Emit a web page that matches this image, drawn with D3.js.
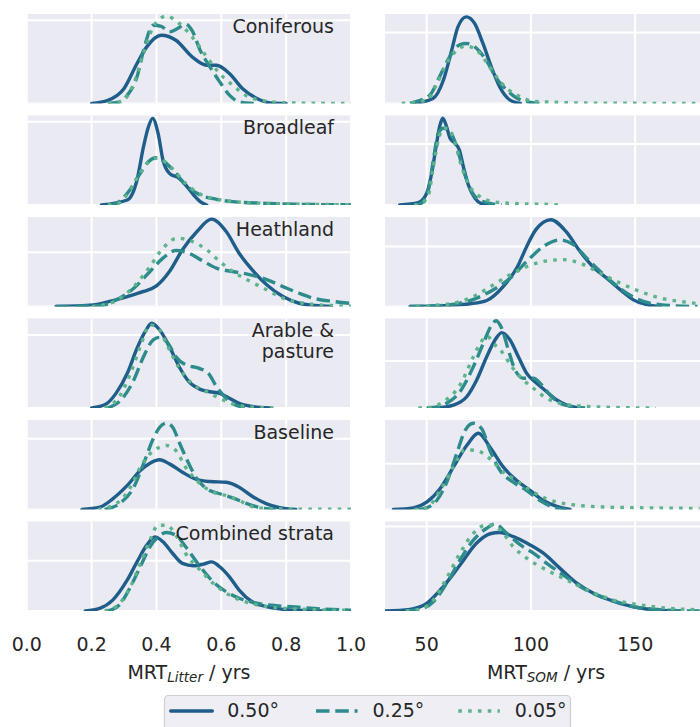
<!DOCTYPE html>
<html><head><meta charset="utf-8">
<script src="https://cdn.jsdelivr.net/npm/d3@7"></script>
<style>body{margin:0;background:#fff}</style>
</head><body><svg id="c" width="700" height="727" xmlns="http://www.w3.org/2000/svg"></svg>
<script>
// ---------------- DATA ----------------
const strata = ["Coniferous", "Broadleaf", "Heathland", "Arable &\npasture", "Baseline", "Combined strata"];
const resolutions = ["0.50°", "0.25°", "0.05°"];

const litterTicks = [0, 0.2, 0.4, 0.6, 0.8, 1.0];
const litterTickLabels = ["0.0", "0.2", "0.4", "0.6", "0.8", "1.0"];
const somTicks = [50, 100, 150];
const somTickLabels = ["50", "100", "150"];

// per panel y-axis upper limit and the single visible (unlabelled) y gridline
const litterYMax = [4.30, 10.74, 4.94, 4.90, 5.06, 5.34];
const litterYTick = [4, 10, 3, 4, 4, 3];
const somYMax = [0.0504, 0.0734, 0.0298, 0.0571, 0.0588, 0.0212];
const somYTick = [0.04, 0.05, 0.02, 0.03, 0.03, 0.02];

// density curves [value, density] for 0.50°, 0.25°, 0.05°
const litterConiferous = [
  [[0.20,0],[0.25,0.15],[0.30,0.72],[0.34,1.92],[0.37,2.72],[0.415,3.28],[0.46,3.04],[0.51,2.24],[0.555,1.84],[0.585,1.84],[0.625,1.44],[0.665,0.72],[0.71,0.24],[0.75,0.03],[0.80,0]],
  [[0.25,0],[0.28,0.05],[0.31,0.4],[0.34,1.28],[0.36,2.55],[0.39,3.76],[0.415,3.7],[0.44,3.44],[0.465,3.6],[0.49,3.81],[0.51,3.5],[0.535,2.55],[0.565,1.76],[0.595,1.04],[0.625,0.4],[0.655,0.08],[0.70,0]],
  [[0.25,0],[0.29,0.08],[0.33,0.96],[0.36,2.4],[0.39,3.68],[0.43,4.2],[0.47,3.85],[0.51,3.2],[0.555,2.24],[0.595,1.44],[0.635,0.88],[0.675,0.4],[0.72,0.16],[0.79,0.04],[0.90,0.01],[1.0,0]]
];
const litterBroadleaf = [
  [[0.23,0],[0.31,0.6],[0.34,3.0],[0.36,7.0],[0.375,9.36],[0.388,10.4],[0.405,8.6],[0.42,5.4],[0.44,3.8],[0.47,3.2],[0.49,2.4],[0.515,1.2],[0.535,0.4],[0.555,0]],
  [[0.25,0],[0.27,0.1],[0.31,1.4],[0.35,3.8],[0.375,5.2],[0.40,5.68],[0.43,5.0],[0.46,3.8],[0.49,2.4],[0.535,1.2],[0.585,0.68],[0.635,0.4],[0.74,0.2],[0.85,0.08],[1.0,0.02]],
  [[0.25,0],[0.28,0.15],[0.31,1.3],[0.35,3.9],[0.38,5.3],[0.40,5.6],[0.43,5.1],[0.46,3.9],[0.49,2.6],[0.535,1.3],[0.585,0.7],[0.635,0.42],[0.74,0.2],[0.85,0.1],[1.0,0.03]]
];
const litterHeathland = [
  [[0.09,0],[0.205,0.09],[0.255,0.28],[0.31,0.55],[0.36,0.83],[0.40,1.14],[0.44,1.93],[0.48,3.13],[0.525,4.14],[0.57,4.82],[0.615,4.14],[0.655,2.94],[0.70,1.93],[0.74,1.2],[0.79,0.55],[0.84,0.18],[0.89,0.06],[0.94,0]],
  [[0.09,0],[0.225,0.05],[0.28,0.4],[0.33,1.01],[0.38,1.93],[0.42,2.67],[0.46,3.09],[0.50,2.94],[0.545,2.49],[0.585,2.12],[0.635,1.93],[0.69,1.75],[0.74,1.48],[0.79,1.1],[0.84,0.73],[0.89,0.43],[0.945,0.28],[1.0,0.17]],
  [[0.20,0],[0.225,0.05],[0.28,0.37],[0.33,1.1],[0.38,2.21],[0.42,3.22],[0.465,3.77],[0.51,3.59],[0.555,3.13],[0.595,2.49],[0.635,1.93],[0.69,1.38],[0.74,0.92],[0.79,0.46],[0.84,0.22],[0.89,0.11],[0.945,0.05],[1.0,0.02]]
];
const litterArable = [
  [[0.20,0],[0.245,0.22],[0.275,0.8],[0.31,1.9],[0.34,3.27],[0.365,4.18],[0.385,4.64],[0.41,4.27],[0.44,3.36],[0.47,2.26],[0.50,1.44],[0.535,1.02],[0.565,0.89],[0.595,0.8],[0.625,0.53],[0.655,0.26],[0.70,0.07],[0.75,0]],
  [[0.25,0],[0.295,0.53],[0.33,1.53],[0.36,2.81],[0.39,3.73],[0.41,3.87],[0.435,3.55],[0.46,2.81],[0.49,2.36],[0.53,2.18],[0.56,1.9],[0.585,1.17],[0.615,0.53],[0.645,0.16],[0.69,0]],
  [[0.24,0],[0.285,0.62],[0.32,1.9],[0.35,3.36],[0.38,4.55],[0.405,4.37],[0.435,3.36],[0.47,2.18],[0.515,1.26],[0.555,0.89],[0.595,0.53],[0.635,0.22],[0.685,0.07],[0.78,0]]
];
const litterBaseline = [
  [[0.17,0],[0.225,0.13],[0.265,0.6],[0.31,1.36],[0.35,2.2],[0.38,2.62],[0.41,2.81],[0.44,2.58],[0.48,2.11],[0.525,1.69],[0.565,1.58],[0.615,1.54],[0.655,1.26],[0.695,0.75],[0.74,0.32],[0.78,0.1],[0.83,0]],
  [[0.24,0],[0.285,0.32],[0.33,1.26],[0.36,2.58],[0.39,4.0],[0.41,4.65],[0.43,4.88],[0.45,4.65],[0.47,3.8],[0.50,2.58],[0.525,1.73],[0.555,1.17],[0.595,0.89],[0.635,0.66],[0.675,0.36],[0.72,0.1],[0.77,0]],
  [[0.22,0],[0.275,0.32],[0.32,1.26],[0.35,2.39],[0.38,3.15],[0.41,3.52],[0.43,3.62],[0.46,3.33],[0.49,2.39],[0.535,1.45],[0.575,0.98],[0.615,0.79],[0.655,0.51],[0.695,0.17],[0.74,0.06],[0.85,0.02],[1.0,0.01]]
];
const litterCombined = [
  [[0.18,0],[0.225,0.16],[0.265,0.65],[0.31,1.85],[0.34,2.93],[0.37,3.93],[0.395,4.42],[0.42,4.13],[0.45,3.43],[0.48,2.84],[0.515,2.7],[0.545,2.8],[0.57,2.93],[0.595,2.64],[0.625,2.04],[0.655,1.25],[0.695,0.55],[0.74,0.26],[0.79,0.1],[0.85,0.03],[0.95,0]],
  [[0.25,0],[0.285,0.36],[0.32,1.45],[0.35,2.64],[0.38,3.83],[0.405,4.42],[0.43,4.68],[0.46,4.52],[0.49,3.83],[0.535,2.64],[0.575,1.74],[0.615,1.15],[0.655,0.76],[0.71,0.46],[0.77,0.32],[0.84,0.22],[0.91,0.12],[1.0,0.05]],
  [[0.24,0],[0.275,0.26],[0.32,1.45],[0.35,2.84],[0.38,4.23],[0.405,5.12],[0.43,5.12],[0.46,4.52],[0.49,3.43],[0.535,2.44],[0.575,1.65],[0.625,0.95],[0.675,0.55],[0.74,0.26],[0.81,0.14],[0.89,0.08],[1.0,0.04]]
];

const somConiferous = [
  [[44,0],[53,0.0028],[58,0.0131],[62,0.030],[65,0.0432],[69,0.0488],[73,0.0451],[77,0.0338],[81,0.0207],[85,0.0094],[90,0.0019],[95,0]],
  [[42,0],[45,0.0011],[51.5,0.0047],[56.5,0.0159],[61,0.0263],[66,0.0332],[69,0.0338],[74,0.031],[79,0.0235],[83.5,0.0141],[88.5,0.0075],[93,0.0032],[98,0.001],[105,0]],
  [[38,0],[42,0.0004],[50,0.0019],[55,0.0113],[59.5,0.0225],[64.5,0.030],[68.5,0.0323],[73,0.031],[78,0.0244],[83.5,0.015],[88.5,0.0085],[95,0.0038],[101,0.0013],[114,0.0006],[130,0.0002],[150,0.0001],[181,0]]
];
const somBroadleaf = [
  [[37,0],[46,0.0019],[50,0.0096],[52.4,0.026],[54.5,0.0478],[56.4,0.0656],[57.7,0.0711],[59.3,0.0656],[61.2,0.0547],[63.6,0.0506],[65.7,0.0451],[67.6,0.0314],[70,0.0164],[73.2,0.0055],[77,0.0008],[82,0]],
  [[44,0],[47,0.001],[50.8,0.0123],[53.2,0.0369],[55.6,0.0588],[58,0.0629],[61.2,0.0601],[64.4,0.0478],[67.6,0.0287],[70.8,0.0137],[74,0.0055],[79,0.0019],[86,0]],
  [[44,0],[47,0.0008],[50.8,0.0082],[53.2,0.0314],[55.6,0.0533],[58,0.0629],[60.4,0.0629],[63.6,0.0506],[66.8,0.0314],[70.8,0.015],[75.6,0.0068],[82,0.0027],[90,0.0014],[106,0.0006],[115,0]]
];
const somHeathland = [
  [[42,0],[58,0.0003],[70.8,0.0009],[78.8,0.002],[86.8,0.0067],[93.6,0.0133],[98,0.02],[102.4,0.0256],[109.6,0.0289],[116.8,0.025],[123.6,0.0183],[130.4,0.0128],[136.4,0.0094],[142.8,0.0056],[149.2,0.0022],[155.6,0.0006],[162,0]],
  [[42,0],[58,0.0004],[66,0.0011],[74,0.0028],[82,0.0056],[90,0.0094],[98,0.015],[106,0.02],[114,0.0222],[120.4,0.0206],[126.8,0.0161],[133.2,0.0117],[139.6,0.0078],[146,0.0044],[154,0.0017],[162,0.0006],[170,0.0002],[180,0]],
  [[45,0],[50,0.0002],[62.8,0.0011],[72.4,0.0033],[82,0.0072],[90,0.0106],[98,0.0133],[106,0.015],[115.6,0.0156],[123.6,0.0144],[133.2,0.0111],[142.8,0.0078],[152.4,0.005],[162,0.0028],[171.6,0.0017],[181,0.0009]]
];
const somArable = [
  [[52,0],[55,0.0001],[62.8,0.0019],[69.2,0.0072],[74,0.0179],[78.8,0.0327],[82.8,0.0434],[86,0.0481],[90,0.0434],[94,0.0327],[98,0.0221],[102.8,0.0158],[107.6,0.0104],[112.4,0.0051],[117.2,0.0019],[123.6,0]],
  [[50,0],[53.2,0.0003],[59.6,0.003],[66,0.0104],[72.4,0.0264],[77.2,0.0413],[81.2,0.053],[83.3,0.0557],[86,0.0509],[89.2,0.037],[92.4,0.0243],[96.4,0.019],[101.2,0.019],[105.2,0.0147],[109.2,0.0083],[114,0.003],[120.4,0.0008],[126,0]],
  [[46,0],[51.6,0.0004],[58,0.004],[66,0.0147],[72.4,0.0327],[76,0.042],[79,0.046],[82,0.0413],[86,0.036],[90.8,0.0264],[96.4,0.0179],[101.2,0.0126],[107.6,0.0062],[114,0.003],[122,0.0015],[130,0.0008],[145,0.0002],[160,0]]
];
const somBaseline = [
  [[34,0],[43.6,0.0011],[50,0.0048],[56.4,0.0136],[62.8,0.0278],[69.2,0.042],[74.8,0.0501],[80.4,0.0409],[86.8,0.0278],[93.2,0.019],[99.6,0.0125],[106,0.0059],[112.4,0.002],[118.8,0]],
  [[46,0],[50,0.0011],[54.8,0.0059],[59.6,0.0179],[64.4,0.0366],[68.4,0.0519],[72.4,0.0567],[76.4,0.053],[80.4,0.0387],[85.2,0.0256],[91.6,0.0179],[98,0.0125],[104.4,0.0059],[110.8,0.0015],[117,0]],
  [[44,0],[50,0.0011],[56.4,0.0125],[62.8,0.0278],[68.4,0.0392],[74,0.0387],[80.4,0.0333],[86.8,0.0245],[93.2,0.019],[101.2,0.0114],[107.6,0.007],[114,0.0044],[123.6,0.0026],[138,0.0015],[154,0.0011],[181,0.0007]]
];
const somCombined = [
  [[30,0],[42,0.0004],[50,0.0018],[58,0.0058],[66,0.0109],[74,0.0161],[80.4,0.0183],[85.2,0.0186],[91.6,0.0176],[98,0.0161],[106,0.0137],[114,0.0101],[122,0.0066],[130,0.0042],[138,0.0026],[146,0.0014],[154,0.0006],[162,0.0002],[170,0]],
  [[40,0],[46.8,0.0004],[53.2,0.0022],[59.6,0.0066],[66,0.0121],[72.4,0.0168],[78.8,0.0196],[82.8,0.0206],[88.4,0.0184],[94.8,0.0157],[101.2,0.0137],[107.6,0.0113],[115.6,0.0085],[123.6,0.0058],[131.6,0.0038],[139.6,0.0024],[149.2,0.001],[158.8,0.0004],[170,0.0001],[181,0]],
  [[40,0],[46.8,0.0004],[53.2,0.0026],[59.6,0.0078],[66,0.0137],[72.4,0.0184],[78.8,0.0204],[85.2,0.0192],[91.6,0.0152],[98,0.0125],[106,0.0101],[114,0.0081],[122,0.0062],[130,0.0043],[139.6,0.0026],[149.2,0.0017],[158.8,0.001],[170,0.0005],[181,0.0003]]
];

const litterPanels = [litterConiferous, litterBroadleaf, litterHeathland, litterArable, litterBaseline, litterCombined];
const somPanels = [somConiferous, somBroadleaf, somHeathland, somArable, somBaseline, somCombined];

// ---------------- STYLE / LAYOUT ----------------
const font = "'DejaVu Sans', sans-serif";
const fs = 19;
const textColor = "#262626";
const panelBg = "#eaeaf2";
const lineColors = ["#1f5d8a", "#2e8b8c", "#5db38c"];
const lineDash = [null, "13.5,5.8", "3.6,6.2"];
const lineWidth = 3.4;
const rowTop0 = 14, rowPitch = 101.5, rowH = 89.5;

const svg = d3.select("#c");
const defs = svg.append("defs");

const columns = [
  { panels: litterPanels, yMax: litterYMax, yTick: litterYTick,
    x: d3.scaleLinear().domain([0, 1]).range([26.8, 351]),
    ticks: litterTicks, tickLabels: litterTickLabels, sub: "Litter", labels: true },
  { panels: somPanels, yMax: somYMax, yTick: somYTick,
    x: d3.scaleLinear().domain([30, 184.5]).range([385, 707]),
    ticks: somTicks, tickLabels: somTickLabels, sub: "SOM", labels: false }
];

columns.forEach((col, ci) => {
  const x = col.x;
  const [x0, x1] = x.range();
  col.panels.forEach((series, r) => {
    const top = rowTop0 + r * rowPitch;
    const y = d3.scaleLinear().domain([0, col.yMax[r]]).range([top + rowH, top]);
    const g = svg.append("g");
    g.append("rect").attr("x", x0).attr("y", top).attr("width", x1 - x0).attr("height", rowH).attr("fill", panelBg);
    const clipId = `clip-${ci}-${r}`;
    defs.append("clipPath").attr("id", clipId).append("rect")
      .attr("x", x0).attr("y", top).attr("width", x1 - x0).attr("height", rowH);
    g.selectAll(".vg").data(col.ticks).join("line")
      .attr("x1", d => x(d)).attr("x2", d => x(d)).attr("y1", top).attr("y2", top + rowH)
      .attr("stroke", "#fff").attr("stroke-width", 2).attr("clip-path", `url(#${clipId})`);
    g.selectAll(".hg").data([0, col.yTick[r]]).join("line")
      .attr("x1", x0).attr("x2", x1).attr("y1", d => y(d)).attr("y2", d => y(d))
      .attr("stroke", "#fff").attr("stroke-width", 2).attr("clip-path", `url(#${clipId})`);
    const line = d3.line().x(d => x(d[0])).y(d => y(d[1])).curve(d3.curveMonotoneX);
    const cg = g.append("g").attr("clip-path", `url(#${clipId})`);
    series.forEach((pts, si) => {
      cg.append("path").attr("d", line(pts)).attr("fill", "none")
        .attr("stroke", lineColors[si]).attr("stroke-width", lineWidth)
        .attr("stroke-dasharray", lineDash[si]).attr("stroke-linejoin", "round")
        .attr("stroke-linecap", si === 0 ? "round" : "butt");
    });
    if (col.labels) {
      const lines = strata[r].split("\n");
      const t = g.append("text").attr("text-anchor", "end").attr("font-family", font)
        .attr("font-size", fs).attr("fill", textColor);
      lines.forEach((ln, li) => {
        t.append("tspan").attr("x", 334).attr("y", top + 18.7 + li * 20.5).text(ln);
      });
    }
  });
  svg.append("g").selectAll("text").data(col.ticks).join("text")
    .attr("x", d => x(d)).attr("y", 650.5).attr("text-anchor", "middle")
    .attr("font-family", font).attr("font-size", fs).attr("fill", textColor)
    .text((d, i) => col.tickLabels[i]);
  const tt = svg.append("text").attr("x", (x0 + x1) / 2).attr("y", 679.3)
    .attr("text-anchor", "middle").attr("font-family", font).attr("font-size", fs)
    .attr("fill", textColor).style("white-space", "pre");
  tt.append("tspan").text("MRT");
  tt.append("tspan").attr("font-style", "italic").attr("font-size", 13.5).attr("dy", 3).text(col.sub);
  tt.append("tspan").attr("dy", -3).text(" / yrs");
});

// ---------------- LEGEND ----------------
const lg = svg.append("g");
lg.append("rect").attr("x", 164.5).attr("y", 695.5).attr("width", 406).attr("height", 50).attr("rx", 4)
  .attr("fill", "#eeeef4").attr("stroke", "#cdcdd2").attr("stroke-width", 1.2);
const handleX = [170.7, 316, 458.3];
resolutions.forEach((lab, i) => {
  lg.append("line").attr("x1", handleX[i]).attr("x2", handleX[i] + 41.6).attr("y1", 711).attr("y2", 711)
    .attr("stroke", lineColors[i]).attr("stroke-width", lineWidth)
    .attr("stroke-dasharray", lineDash[i]).attr("stroke-linecap", i === 0 ? "round" : "butt");
  lg.append("text").attr("x", handleX[i] + 56.5).attr("y", 717.3).attr("font-family", font)
    .attr("font-size", fs).attr("fill", textColor).text(lab);
});
</script></body></html>
